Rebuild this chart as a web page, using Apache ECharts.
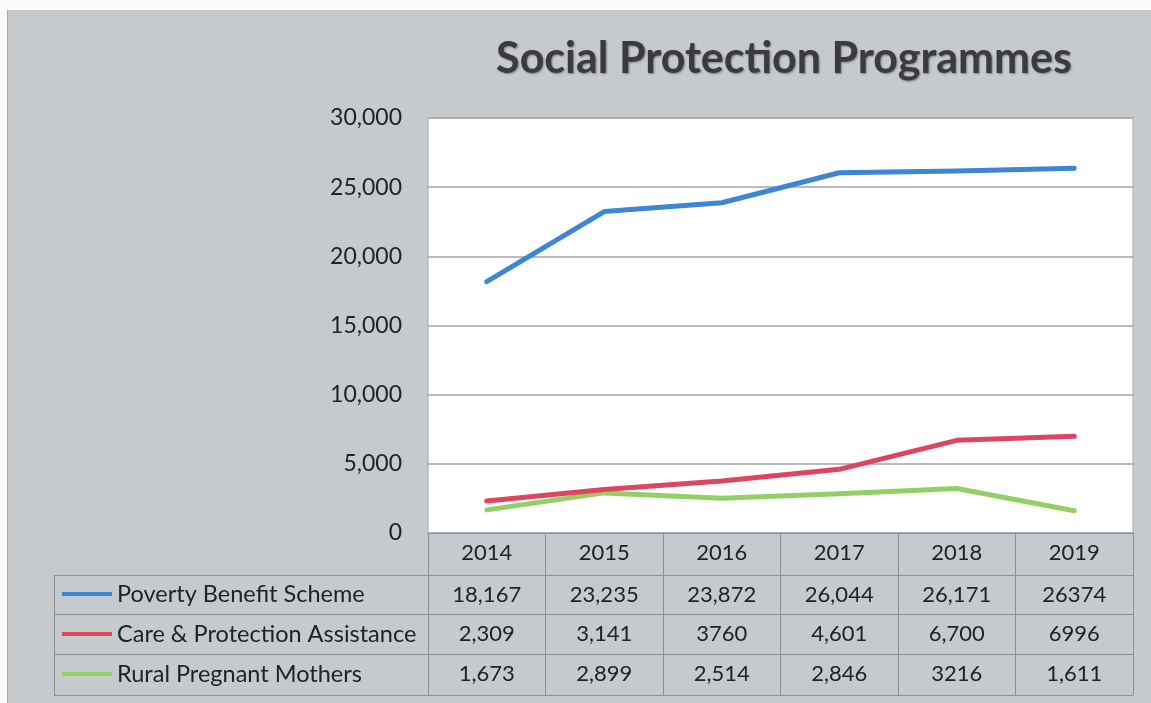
<!DOCTYPE html>
<html>
<head>
<meta charset="utf-8">
<title>Social Protection Programmes</title>
<script src="https://cdn.jsdelivr.net/npm/echarts@6/dist/echarts.min.js"></script>
<style>
  html, body { margin: 0; padding: 0; background: #fff; }
  #chart { width: 1151px; height: 703px; }
</style>
</head>
<body>
<div id="chart"></div>
<script>
// Programme beneficiaries per year
const years = ['2014', '2015', '2016', '2017', '2018', '2019'];
const seriesNames = ['Poverty Benefit Scheme', 'Care & Protection Assistance', 'Rural Pregnant Mothers'];
const povertyBenefit = [18167, 23235, 23872, 26044, 26171, 26374];
const careProtection = [2309, 3141, 3760, 4601, 6700, 6996];
const ruralMothers = [1673, 2899, 2514, 2846, 3216, 1611];
// Figures as printed in the data table
const povertyText = ['18,167', '23,235', '23,872', '26,044', '26,171', '26374'];
const careText = ['2,309', '3,141', '3760', '4,601', '6,700', '6996'];
const ruralText = ['1,673', '2,899', '2,514', '2,846', '3216', '1,611'];
const yTicks = { min: 0, max: 30000, step: 5000 };

const colors = ['#3d86d6', '#dd4560', '#92d063'];
const FONT = 'Lato';
const TEXT = '#222';
const RULE = '#8c8f92';

const W = 1151, H = 703;
const plot = { left: 428, right: 1133, top: 118, bottom: 533 };
const rowLines = [575, 614, 654, 695];
const tableLeft = 54;

function rowAxis(labels, lineY, tickLen, show) {
  return {
    type: 'category',
    gridIndex: 0,
    position: 'bottom',
    offset: lineY - plot.bottom,
    data: labels,
    boundaryGap: true,
    axisLine: { show: true, lineStyle: { color: RULE, width: 1 } },
    axisTick: { show: show, interval: 0, length: tickLen, lineStyle: { color: RULE, width: 1 } },
    axisLabel: { show: show, interval: 0, margin: 9, fontFamily: FONT, fontSize: 22, lineHeight: 21, color: TEXT },
    splitLine: { show: false }
  };
}

const chart = echarts.init(document.getElementById('chart'), null, { renderer: 'canvas' });

const option = {
  backgroundColor: '#c6cacd',
  animation: false,
  title: {
    text: 'Social Protection Programmes',
    left: 779,
    top: 33,
    textAlign: 'center',
    textStyle: {
      fontFamily: FONT, fontWeight: 'bold', fontSize: 43, color: '#3b3b3d',
      textShadowColor: 'rgba(0,0,0,0.35)', textShadowBlur: 2, textShadowOffsetX: 1, textShadowOffsetY: 1
    }
  },
  legend: {
    orient: 'vertical',
    left: 62,
    top: 582,
    padding: 0,
    icon: 'rect',
    itemWidth: 50,
    itemHeight: 4,
    itemGap: 16,
    data: seriesNames,
    textStyle: { fontFamily: FONT, fontSize: 23.5, lineHeight: 24, color: TEXT, padding: [0, 0, 0, 0] },
    selectedMode: false
  },
  grid: {
    left: plot.left,
    right: W - plot.right,
    top: plot.top,
    bottom: H - plot.bottom,
    show: true,
    backgroundColor: '#ffffff',
    borderColor: '#a6a8aa',
    borderWidth: 1
  },
  xAxis: [
    rowAxis(years, plot.bottom, rowLines[0] - plot.bottom, true),
    rowAxis(povertyText, rowLines[0], rowLines[1] - rowLines[0], true),
    rowAxis(careText, rowLines[1], rowLines[2] - rowLines[1], true),
    rowAxis(ruralText, rowLines[2], rowLines[3] - rowLines[2], true),
    rowAxis(years, rowLines[3], 0, false)
  ],
  yAxis: {
    type: 'value',
    min: yTicks.min,
    max: yTicks.max,
    interval: yTicks.step,
    axisLine: { show: false },
    axisTick: { show: false },
    axisLabel: {
      margin: 26, fontFamily: FONT, fontSize: 23, color: TEXT,
      formatter: v => v.toLocaleString('en-US')
    },
    splitLine: { lineStyle: { color: '#a2a4a6', width: 1.5 } }
  },
  series: [
    { name: seriesNames[0], data: povertyBenefit },
    { name: seriesNames[1], data: careProtection },
    { name: seriesNames[2], data: ruralMothers }
  ].map((s, i) => ({
    name: s.name,
    type: 'line',
    xAxisIndex: 0,
    data: s.data,
    color: colors[i],
    showSymbol: false,
    symbol: 'none',
    lineStyle: { width: 5, color: colors[i], cap: 'round', join: 'round' },
    z: 3 - i
  })),
  graphic: [
    // paper margin
    { type: 'rect', shape: { x: 0, y: 0, width: W, height: 10 }, style: { fill: '#fbfbfb' }, silent: true },
    { type: 'rect', shape: { x: 0, y: 0, width: 7, height: H }, style: { fill: '#fbfbfb' }, silent: true },
    { type: 'line', shape: { x1: 7.5, y1: 10, x2: 7.5, y2: H }, style: { stroke: '#a9adb0', lineWidth: 1 }, silent: true },
    // left part of the data table (legend cells)
    { type: 'line', shape: { x1: tableLeft + 0.5, y1: rowLines[0], x2: tableLeft + 0.5, y2: rowLines[3] }, style: { stroke: RULE, lineWidth: 1 }, silent: true }
  ].concat(rowLines.map(y => ({
    type: 'line', shape: { x1: tableLeft, y1: y + 0.5, x2: plot.left, y2: y + 0.5 }, style: { stroke: RULE, lineWidth: 1 }, silent: true
  })))
};

chart.setOption(option);
</script>
</body>
</html>
